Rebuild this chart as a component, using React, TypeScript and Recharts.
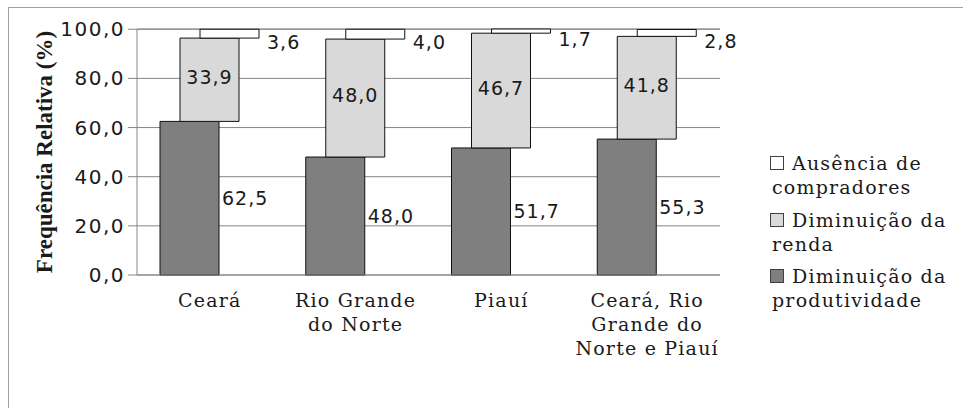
import { BarChart, Bar, XAxis, YAxis, CartesianGrid, LabelList, Legend } from 'recharts'

const categories = ['Ceará', 'Rio Grande\ndo Norte', 'Piauí', 'Ceará, Rio\nGrande do\nNorte e Piauí']
const produtividade = [62.5, 48.0, 51.7, 55.3]
const renda = [33.9, 48.0, 46.7, 41.8]
const compradores = [3.6, 4.0, 1.7, 2.8]
const yTicks = [0, 20, 40, 60, 80, 100]

const legendItems = [
  { label: ['Ausência de', 'compradores'], fill: '#ffffff' },
  { label: ['Diminuição da', 'renda'], fill: '#d9d9d9' },
  { label: ['Diminuição da', 'produtividade'], fill: '#7f7f7f' },
]

// each series is drawn as a floating range so the three columns can sit offset
const data = categories.map((name, i) => {
  const a = produtividade[i]
  const b = renda[i]
  const c = compradores[i]
  return {
    name,
    produtividade: a,
    renda: b,
    compradores: c,
    darkRange: [0, a],
    lightRange: [a, a + b],
    whiteRange: [a + b, a + b + c],
  }
})

const NUM_FONT = '"DejaVu Sans", Verdana, sans-serif'
const SERIF_FONT = '"DejaVu Serif", Georgia, serif'
const INK = '#1a1a1a'

const fmt = (v: number) => Number(v).toFixed(1).replace('.', ',')

function SideLabel(props: any) {
  const { x, y, width, height, value, gap = 5, dy = 0 } = props
  return (
    <text
      x={Number(x) + Number(width) + gap}
      y={Number(y) + Number(height) / 2 + dy}
      fontFamily={NUM_FONT}
      fontSize={19}
      letterSpacing={1}
      fill={INK}
      dominantBaseline="central"
    >
      {fmt(value)}
    </text>
  )
}

function CenterLabel(props: any) {
  const { x, y, width, height, value } = props
  return (
    <text
      x={Number(x) + Number(width) / 2}
      y={Number(y) + Number(height) / 2 - 3}
      fontFamily={NUM_FONT}
      fontSize={19}
      letterSpacing={1}
      fill={INK}
      textAnchor="middle"
      dominantBaseline="central"
    >
      {fmt(value)}
    </text>
  )
}

function CategoryTick({ x, y, payload }: any) {
  const lines = String(payload.value).split('\n')
  return (
    <text x={x} y={y} textAnchor="middle" fontFamily={SERIF_FONT} fontSize={19} letterSpacing={1.2} fill={INK}>
      {lines.map((l, i) => (
        <tspan key={i} x={x} dy={i === 0 ? 32 : 24}>{l}</tspan>
      ))}
    </text>
  )
}

function YTitle({ viewBox }: any) {
  const cx = 44
  const cy = viewBox.y + viewBox.height / 2
  return (
    <text
      x={cx}
      y={cy}
      transform={`rotate(-90, ${cx}, ${cy})`}
      textAnchor="middle"
      dominantBaseline="central"
      fontFamily='"Liberation Serif", "Times New Roman", serif'
      fontWeight="bold"
      fontSize={23}
      fill={INK}
    >
      Frequência Relativa (%)
    </text>
  )
}

function LegendBox() {
  return (
    <div style={{ fontFamily: SERIF_FONT, fontSize: 19, letterSpacing: 1.2, lineHeight: '24px', color: INK }}>
      {legendItems.map((it, i) => (
        <div key={i} style={{ marginBottom: 8.5 }}>
          <div style={{ whiteSpace: 'nowrap' }}>
            <span
              style={{
                display: 'inline-block',
                width: 12,
                height: 12,
                border: '1px solid #404040',
                background: it.fill,
                marginRight: 8,
              }}
            />
            {it.label[0]}
          </div>
          <div style={{ paddingLeft: 2 }}>{it.label[1]}</div>
        </div>
      ))}
    </div>
  )
}

export default function App() {
  return (
    <div style={{ position: 'absolute', left: 0, top: 0, width: 963, height: 408, background: '#fff', overflow: 'hidden' }}>
      <div
        style={{
          position: 'absolute',
          left: 8,
          top: 7,
          width: 1000,
          height: 440,
          border: '1px solid #a0a0a0',
        }}
      />
      <div style={{ position: 'absolute', left: 0, top: 0 }}>
        <BarChart
          width={963}
          height={408}
          data={data}
          margin={{ top: 29, right: 243, bottom: 103, left: 0 }}
          barSize={59}
          barGap={-39}
        >
          <CartesianGrid vertical={false} stroke="#868686" />
          <XAxis
            dataKey="name"
            tickLine={false}
            tickSize={0}
            tickMargin={0}
            axisLine={{ stroke: '#868686' }}
            tick={<CategoryTick />}
            interval={0}
          />
          <YAxis
            width={137}
            domain={[0, 100]}
            ticks={yTicks}
            tickFormatter={fmt}
            tickSize={9}
            tickMargin={3}
            tickLine={{ stroke: '#868686' }}
            axisLine={{ stroke: '#868686' }}
            tick={{ fontFamily: NUM_FONT, fontSize: 20, fill: INK, letterSpacing: 1.5 }}
            label={{ content: <YTitle /> }}
          />
          <Legend
            layout="vertical"
            align="center"
            verticalAlign="middle"
            wrapperStyle={{ left: 770, top: 151, width: 193 }}
            content={() => <LegendBox />}
          />
          <Bar dataKey="darkRange" name="Diminuição da produtividade" fill="#7f7f7f" stroke="#111" strokeWidth={1} isAnimationActive={false}>
            <LabelList dataKey="produtividade" content={<SideLabel gap={3} />} />
          </Bar>
          <Bar dataKey="lightRange" name="Diminuição da renda" fill="#d9d9d9" stroke="#111" strokeWidth={1} isAnimationActive={false}>
            <LabelList dataKey="renda" content={<CenterLabel />} />
          </Bar>
          <Bar dataKey="whiteRange" name="Ausência de compradores" fill="#ffffff" stroke="#111" strokeWidth={1} isAnimationActive={false}>
            <LabelList dataKey="compradores" content={<SideLabel gap={8} dy={8} />} />
          </Bar>
        </BarChart>
      </div>
    </div>
  )
}
